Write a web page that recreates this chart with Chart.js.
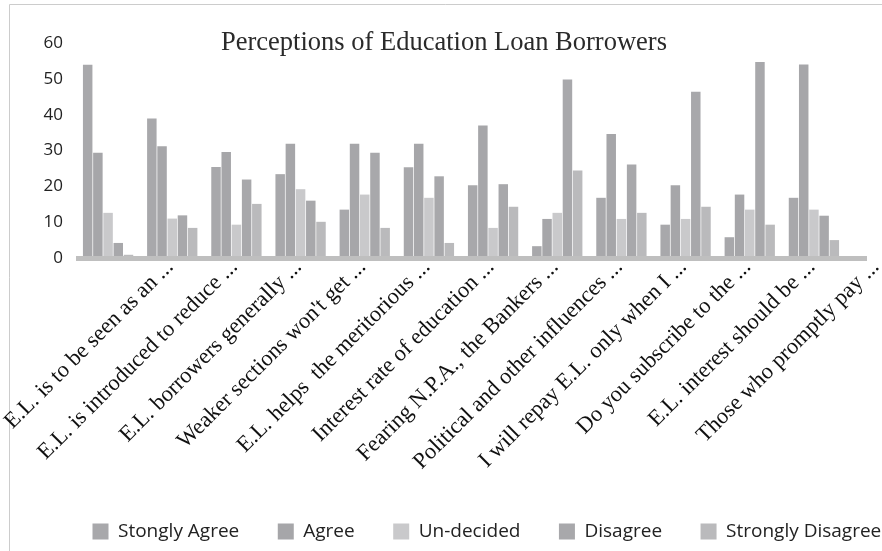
<!DOCTYPE html>
<html>
<head>
<meta charset="utf-8">
<script src="https://cdn.jsdelivr.net/npm/chart.js@4.4.1/dist/chart.umd.min.js"></script>
<style>
  html, body { margin: 0; padding: 0; background: #fff; }
</style>
</head>
<body>
<canvas id="myChart" width="882" height="551"></canvas>
<script>
const categories = [
  'E.L. is to be seen as an ...',
  'E.L. is introduced to reduce ...',
  'E.L. borrowers generally ...',
  "Weaker sections won't get ...",
  'E.L. helps  the meritorious ...',
  'Interest rate of education ...',
  'Fearing N.P.A., the Bankers ...',
  'Political and other influences ...',
  'I will repay E.L. only when I ...',
  'Do you subscribe to the ...',
  'E.L. interest should be ...',
  'Those who promptly pay ...'
];
const stronglyAgree    = [53.9, 38.9, 25.4, 23.4, 13.5, 25.3, 20.3,  3.3, 16.8,  9.3,  5.8, 16.8];
const agree            = [29.4, 31.2, 29.6, 31.9, 31.9, 31.9, 37.0, 10.9, 34.6, 20.3, 17.7, 54.0];
const undecided        = [12.6, 11.0,  9.3, 19.2, 17.7, 16.8,  8.4, 12.6, 10.9, 10.9, 13.5, 13.5];
const disagree         = [ 4.2, 11.9, 21.9, 16.0, 29.4, 22.8, 20.6, 49.8, 26.1, 46.4, 54.7, 11.8];
const stronglyDisagree = [ 0.9,  8.4, 15.1, 10.1,  8.4,  4.2, 14.3, 24.4, 12.6, 14.3,  9.3,  5.0];
const yTicks = [0, 10, 20, 30, 40, 50, 60];

// title, frame and thick base line like the original export
const decor = {
  id: 'decor',
  afterLayout(chart) {
    // legend sits right of centre in the original
    chart.legend.left += 54;
    chart.legend.right += 54;
  },
  beforeDraw(chart) {
    const c = chart.ctx;
    c.save();
    c.fillStyle = '#fff';
    c.fillRect(0, 0, chart.width, chart.height);
    c.strokeStyle = '#cccccc';
    c.lineWidth = 1;
    c.beginPath();
    c.moveTo(9.5, chart.height);
    c.lineTo(9.5, 4.5);
    c.lineTo(chart.width, 4.5);
    c.stroke();
    c.restore();
  },
  afterDatasetsDraw(chart) {
    const c = chart.ctx;
    const a = chart.chartArea;
    const y0 = chart.scales.y.getPixelForValue(0);
    c.save();
    c.fillStyle = '#bfbfbf';
    c.fillRect(a.left, y0 - 2, a.right - a.left + 21, 5);
    c.fillStyle = '#2a2a2a';
    c.font = '26.5px "Liberation Serif"';
    c.textAlign = 'center';
    c.textBaseline = 'middle';
    c.fillText('Perceptions of Education Loan Borrowers', 444, 43);
    c.restore();
  }
};

const ctx = document.getElementById('myChart').getContext('2d');
const myChart = new Chart(ctx, {
  type: 'bar',
  data: {
    labels: categories,
    datasets: [
      { label: 'Stongly Agree', data: stronglyAgree, backgroundColor: '#a8a8ab' },
      { label: 'Agree', data: agree, backgroundColor: '#a6a6a9' },
      { label: 'Un-decided', data: undecided, backgroundColor: '#c9c9cb' },
      { label: 'Disagree', data: disagree, backgroundColor: '#a8a8ab' },
      { label: 'Strongly Disagree', data: stronglyDisagree, backgroundColor: '#bababc' }
    ]
  },
  options: {
    responsive: false,
    animation: false,
    layout: { padding: { top: 43, right: 0, bottom: 0, left: 0 } },
    datasets: { bar: { categoryPercentage: 0.795, barPercentage: 0.93 } },
    plugins: {
      legend: {
        position: 'bottom',
        align: 'start',
        labels: {
          boxWidth: 16,
          boxHeight: 16,
          padding: 38.5,
          color: '#222',
          font: { family: '"Open Sans"', size: 19 }
        }
      },
      tooltip: { enabled: false }
    },
    scales: {
      x: {
        grid: { display: false, drawTicks: false },
        border: { display: false },
        ticks: {
          autoSkip: false,
          minRotation: 45,
          maxRotation: 45,
          labelOffset: 62,
          padding: -4,
          color: '#111',
          font: { family: '"Liberation Serif"', size: 22.5 }
        },
        afterFit(scale) {
          scale.height = 225.5;
          scale.paddingLeft = 0;
          scale.paddingRight = 36;
        }
      },
      y: {
        min: yTicks[0],
        max: yTicks[yTicks.length - 1],
        grid: { display: false, drawTicks: false },
        border: { display: false },
        afterBuildTicks(scale) {
          scale.ticks = yTicks.map(v => ({ value: v }));
        },
        ticks: {
          padding: 13,
          color: '#222',
          font: { family: '"Open Sans"', size: 17 }
        },
        afterFit(scale) {
          scale.width = 76;
        }
      }
    }
  },
  plugins: [decor]
});
</script>
</body>
</html>
